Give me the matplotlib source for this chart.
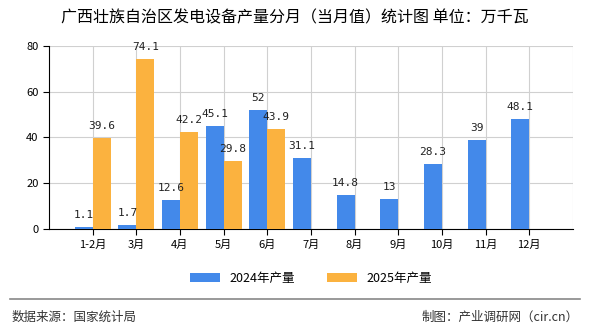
import matplotlib
matplotlib.use("Agg")
import matplotlib.pyplot as plt
import numpy as np

plt.rcParams['font.family'] = ['Noto Sans CJK SC', 'DejaVu Sans']

months = ["1-2月", "3月", "4月", "5月", "6月", "7月", "8月", "9月", "10月", "11月", "12月"]
prod_2024 = [1.1, 1.7, 12.6, 45.1, 52, 31.1, 14.8, 13, 28.3, 39, 48.1]
prod_2025 = [39.6, 74.1, 42.2, 29.8, 43.9]

blue = '#4389ea'
orange = '#fbb23f'

fig = plt.figure(figsize=(5.9, 3.3), dpi=100)
ax = fig.add_axes([0.083, 0.306, 0.888, 0.555])

x = np.arange(1, len(months) + 1)
w = 0.41
ax.bar(x - w / 2, prod_2024, width=w, color=blue, label='2024年产量', zorder=3)
x25 = x[:len(prod_2025)]
ax.bar(x25 + w / 2, prod_2025, width=w, color=orange, label='2025年产量', zorder=3)

# data labels
for xi, v in zip(x, prod_2024):
    ax.annotate(f'{v:g}', (xi - w / 2, v), xytext=(0, 5), textcoords='offset points',
                ha='center', va='bottom', fontsize=8, family='DejaVu Sans Mono', color='#222222')
for xi, v in zip(x25, prod_2025):
    ax.annotate(f'{v:g}', (xi + w / 2, v), xytext=(0, 5), textcoords='offset points',
                ha='center', va='bottom', fontsize=8, family='DejaVu Sans Mono', color='#222222')

ax.set_xlim(0, 12)
ax.set_ylim(0, 80)
ax.set_yticks([0, 20, 40, 60, 80])
ax.set_xticks(x)
ax.set_xticklabels(months)
ax.tick_params(axis='both', labelsize=8, length=4, color='black')

# grid at category centres and right edge
ax.grid(axis='y', color='#d0d0d0', linewidth=0.8, zorder=0)
for xi in list(x) + [12]:
    ax.axvline(xi, color='#d0d0d0', linewidth=0.8, zorder=0)

for s in ['top', 'right']:
    ax.spines[s].set_visible(False)
ax.spines['left'].set_color('black')
ax.spines['bottom'].set_color('black')

fig.text(0.5, 0.945, '广西壮族自治区发电设备产量分月（当月值）统计图 单位：万千瓦',
         ha='center', va='center', fontsize=11.5)

ax.legend(loc='center', bbox_to_anchor=(0.5, -0.27), ncol=2, frameon=False,
          fontsize=9, handlelength=2.4, handleheight=0.8, columnspacing=2.5)

fig.add_artist(plt.Line2D([0.017, 0.983], [0.095, 0.095], transform=fig.transFigure,
                          color='#888888', linewidth=1.2))
fig.text(0.02, 0.04, '数据来源：国家统计局', ha='left', va='center', fontsize=9, color='#333333')
fig.text(0.98, 0.04, '制图：产业调研网（cir.cn）', ha='right', va='center', fontsize=9, color='#333333')

fig.savefig('out.png', dpi=100)
